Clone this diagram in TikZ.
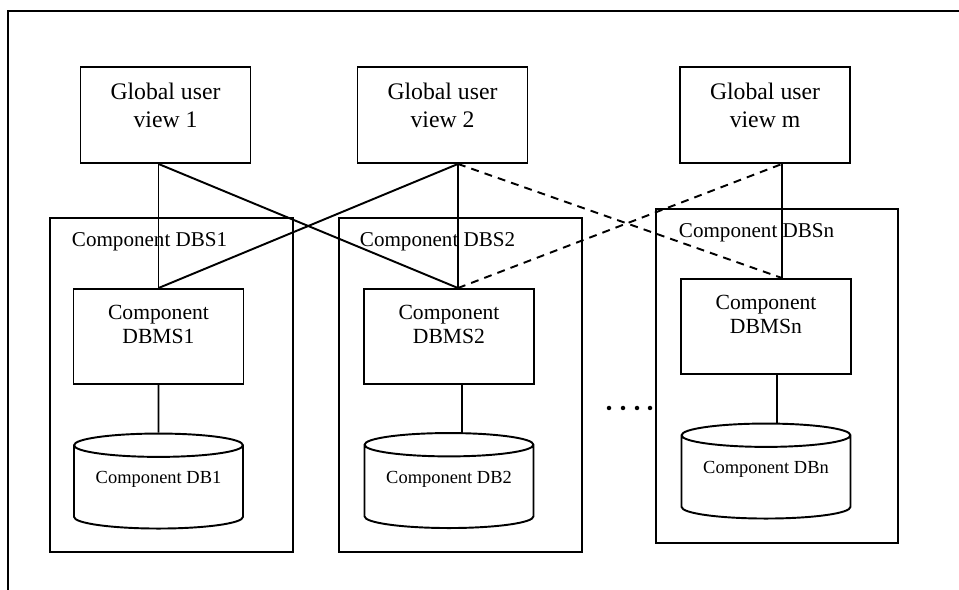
\documentclass[tikz,border=0pt]{standalone}
\usepackage{fontspec}
\setmainfont{Liberation Serif}
\usetikzlibrary{shapes.geometric}

\begin{document}
\begin{tikzpicture}[x=0.02cm, y=-0.02cm, line width=1.1pt]
\tikzset{guview/.style={draw, align=center, minimum width=3.4cm, minimum height=1.92cm, text height=0.91cm, text depth=0.39cm, font=\fontsize{13.5}{16}\selectfont}}
\tikzset{dbms/.style={draw, align=center, minimum width=3.4cm, minimum height=1.9cm, text height=0.83cm, text depth=0.53cm, font=\fontsize{12.3}{14.2}\selectfont}}
\tikzset{dbsbox/.style={draw, minimum width=4.85cm, minimum height=6.68cm}}
\tikzset{dbslabel/.style={anchor=base west, inner sep=0pt, font=\fontsize{12}{14}\selectfont}}
\tikzset{dbcyl/.style={draw, cylinder, shape border rotate=90, aspect=0.17, minimum width=3.38cm, minimum height=1.9cm, text depth=0.48cm, font=\fontsize{10.5}{12}\selectfont}}
\tikzset{dashline/.style={dash pattern=on 4.5pt off 3.5pt}}
\useasboundingbox (0,0) rectangle (959,590);
\draw (8,590) -- (8,11) -- (959,11);
% component database systems
\node[dbsbox] (S1) at (171.5,385) {};
\node[dbsbox] (S2) at (460.5,385) {};
\node[dbsbox] (Sn) at (777,376) {};
\node[dbslabel] (L1) at (71,247) {Component DBS1};
\node[dbslabel] (L2) at (359,247) {Component DBS2};
\node[dbslabel] (Ln) at (678,238) {Component DBSn};
% global user views
\node[guview] (G1) at (165.5,115) {Global user\\view 1};
\node[guview] (G2) at (442.5,115) {Global user\\view 2};
\node[guview] (Gm) at (765,115) {Global user\\view m};
% component DBMSs
\node[dbms] (M1) at (158.5,336.5) {Component\\DBMS1};
\node[dbms] (M2) at (449,336.5) {Component\\DBMS2};
\node[dbms] (Mn) at (766,326.5) {Component\\DBMSn};
% component databases
\node[dbcyl] (D1) at (158.5,489.5) {Component DB1};
\node[dbcyl] (D2) at (449,489) {Component DB2};
\node[dbcyl] (Dn) at (766,479.5) {Component DBn};
% connection points
\coordinate (T2) at ([xshift=0.18cm]M2.north);
\coordinate (Tn) at ([xshift=0.32cm]Mn.north);
\draw (M1.north |- G1.south) -- (M1.north);
\draw (M1.north |- G1.south) -- (T2);
\draw (T2 |- G2.south) -- (M1.north);
\draw (T2 |- G2.south) -- (T2);
\draw[dashline] (T2 |- G2.south) -- (Tn);
\draw[dashline] (T2) -- (Tn |- Gm.south);
\draw (Tn |- Gm.south) -- (Tn);
\draw (M1.south) -- (D1.north);
\draw ([xshift=0.26cm]M2.south) -- ([xshift=0.26cm]M2.south |- D2.north);
\draw ([xshift=0.22cm]Mn.south) -- ([xshift=0.22cm]Mn.south |- Dn.north);
\fill (609,408) circle (0.045cm);
\fill (623,408) circle (0.045cm);
\fill (637,408) circle (0.045cm);
\fill (650,408) circle (0.045cm);
\end{tikzpicture}
\end{document}
